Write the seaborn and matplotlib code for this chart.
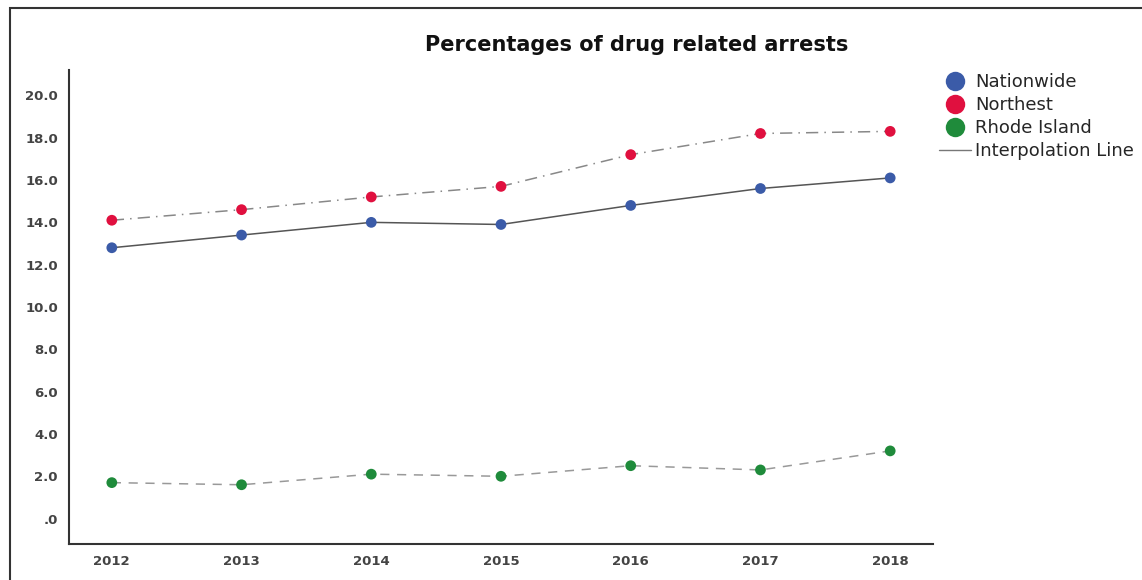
import pandas as pd
import matplotlib
matplotlib.use("Agg")
import matplotlib.pyplot as plt
import seaborn as sns
from matplotlib.lines import Line2D
from matplotlib.patches import Rectangle
from matplotlib.ticker import FuncFormatter

years = [2012, 2013, 2014, 2015, 2016, 2017, 2018]
nationwide = [12.8, 13.4, 14.0, 13.9, 14.8, 15.6, 16.1]
northeast = [14.1, 14.6, 15.2, 15.7, 17.2, 18.2, 18.3]
rhode_island = [1.7, 1.6, 2.1, 2.0, 2.5, 2.3, 3.2]
series_names = ["Nationwide", "Northest", "Rhode Island"]
colors = ["#3b5ba8", "#e0103f", "#1f8b3b"]
line_styles = ["-", (0, (8, 4, 1, 4)), (0, (6, 5))]
line_colors = ["#555555", "#888888", "#999999"]

df = pd.DataFrame({
    "year": years * 3,
    "value": nationwide + northeast + rhode_island,
    "series": [n for n in series_names for _ in years],
})

sns.set_style("white")
plt.rcParams["font.family"] = ["DejaVu Sans"]

fig = plt.figure(figsize=(11.42, 5.8), dpi=100)
ax = fig.add_axes([69 / 1142, 1 - 544 / 580, (933 - 69) / 1142, (544 - 70) / 580])

for name, ls, lc in zip(series_names, line_styles, line_colors):
    sub = df[df["series"] == name]
    sns.lineplot(data=sub, x="year", y="value", ax=ax, color=lc,
                 linestyle=ls, linewidth=1.1, legend=False)

sns.scatterplot(data=df, x="year", y="value", hue="series", hue_order=series_names,
                palette=colors, s=60, edgecolor="none", ax=ax, legend=False, zorder=3)

ax.set_xlim(2011.67, 2018.33)
ax.set_ylim(-1.2, 21.2)
ax.set_xticks(years)
ax.set_yticks(range(0, 21, 2))
ax.yaxis.set_major_formatter(FuncFormatter(lambda v, p: ".0" if v == 0 else f"{v:.1f}"))
ax.tick_params(axis="both", length=0, labelsize=9.5, colors="#444444")
for lab in ax.get_xticklabels() + ax.get_yticklabels():
    lab.set_fontweight("bold")
ax.tick_params(axis="x", pad=8)
ax.tick_params(axis="y", pad=8)
ax.set_xlabel("")
ax.set_ylabel("")
for side in ["top", "right"]:
    ax.spines[side].set_visible(False)
for side in ["left", "bottom"]:
    ax.spines[side].set_color("#333333")
    ax.spines[side].set_linewidth(1.5)

fig.text(637 / 1142, 1 - 45 / 580, "Percentages of drug related arrests",
         ha="center", va="center", fontsize=15, fontweight="bold", color="#111111")

handles = [Line2D([], [], marker="o", linestyle="none", markersize=14,
                  markerfacecolor=c, markeredgecolor="none") for c in colors]
handles.append(Line2D([], [], color="#777777", linewidth=1))
fig.legend(handles, series_names + ["Interpolation Line"],
           loc="upper left", bbox_to_anchor=(939 / 1142, 1 - 73 / 580),
           frameon=False, fontsize=13, handlelength=1.75, handletextpad=0.25,
           labelspacing=0.28, borderaxespad=0, borderpad=0)

fig.patches.append(Rectangle((10 / 1142, -0.1), 1.2, 1 - 8 / 580 + 0.1,
                             transform=fig.transFigure, fill=False,
                             edgecolor="#333333", linewidth=1.5))

fig.savefig("out.png", dpi=100)
